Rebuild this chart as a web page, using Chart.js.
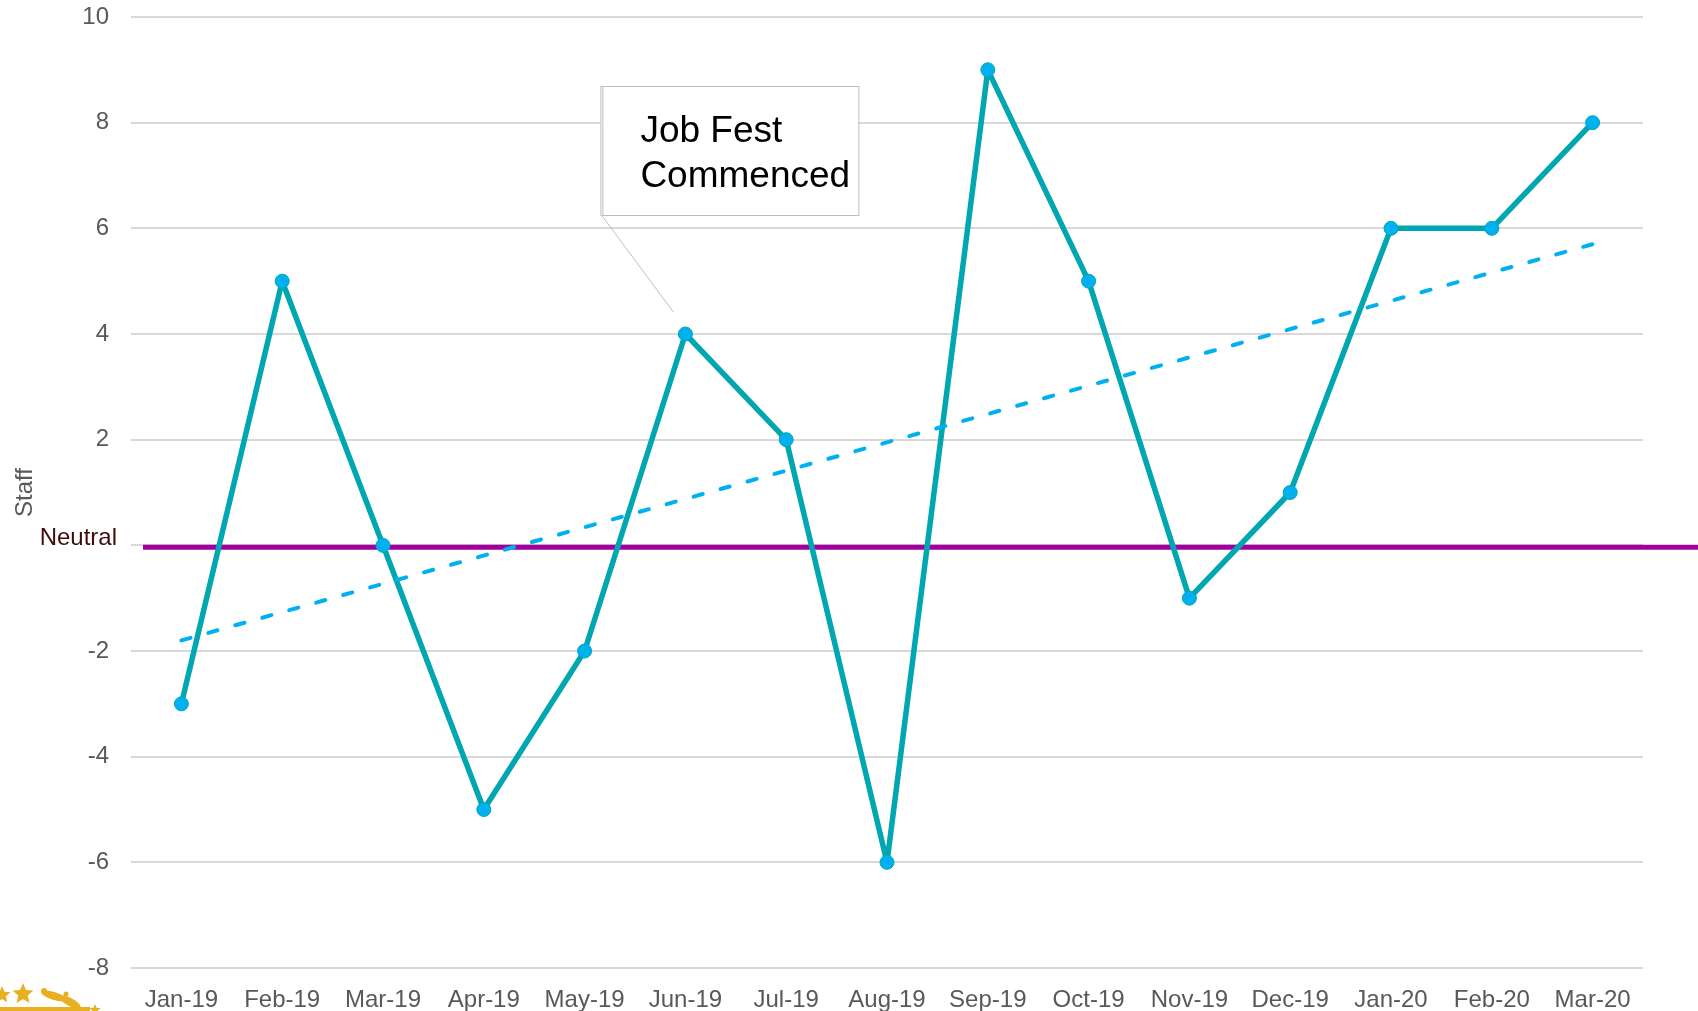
<!DOCTYPE html>
<html>
<head>
<meta charset="utf-8">
<script src="https://cdn.jsdelivr.net/npm/chart.js@4/dist/chart.umd.min.js"></script>
<style>
  html, body { margin: 0; padding: 0; background: #fff; }
  #wrap { width: 1698px; height: 1011px; position: relative; }
</style>
</head>
<body>
<div id="wrap"><canvas id="chart"></canvas></div>
<script>
// data
const months = ['Jan-19', 'Feb-19', 'Mar-19', 'Apr-19', 'May-19', 'Jun-19', 'Jul-19', 'Aug-19',
  'Sep-19', 'Oct-19', 'Nov-19', 'Dec-19', 'Jan-20', 'Feb-20', 'Mar-20'];
const staff = [-3, 5, 0, -5, -2, 4, 2, -6, 9, 5, -1, 1, 6, 6, 8];
// trendline ends
const trend = [-1.8, null, null, null, null, null, null, null, null, null, null, null, null, null, 5.7];
const neutralValue = 0;
const yTicks = [10, 8, 6, 4, 2, 0, -2, -4, -6, -8];
const note = ['Job Fest', 'Commenced'];
const noteIndex = 5;

const FONT = '"Liberation Sans", Arial, sans-serif';

// purple neutral line + label, callout box, logo scrap
const extras = {
  id: 'extras',
  beforeDatasetsDraw(chart) {
    const { ctx, scales: { y } } = chart;
    const py = y.getPixelForValue(neutralValue) + 2;
    ctx.save();
    ctx.strokeStyle = '#a000a0';
    ctx.lineWidth = 5;
    ctx.beginPath();
    ctx.moveTo(143, py);
    ctx.lineTo(chart.width, py);
    ctx.stroke();
    ctx.fillStyle = '#3d0c0c';
    ctx.font = '24px ' + FONT;
    ctx.textAlign = 'right';
    ctx.textBaseline = 'alphabetic';
    ctx.fillText('Neutral', 117, py - 2);
    ctx.restore();
  },
  afterDraw(chart) {
    const { ctx, scales: { x, y } } = chart;
    const px = x.getPixelForValue(noteIndex);
    const py = y.getPixelForValue(staff[noteIndex]);
    ctx.save();
    // callout
    const bx = px - 85, by = py - 248, bw = 258, bh = 129;
    ctx.fillStyle = '#fff';
    ctx.fillRect(bx, by, bw, bh);
    ctx.strokeStyle = '#bfbfbf';
    ctx.lineWidth = 1;
    ctx.strokeRect(bx + 0.5, by + 0.5, bw, bh);
    ctx.beginPath();
    ctx.moveTo(bx + 2.5, by + 1);
    ctx.lineTo(bx + 2.5, by + bh);
    ctx.stroke();
    ctx.beginPath();
    ctx.moveTo(bx + 1, by + bh);
    ctx.lineTo(px - 12, py - 22);
    ctx.stroke();
    ctx.fillStyle = '#000';
    ctx.font = '37px ' + FONT;
    ctx.textAlign = 'left';
    ctx.fillText(note[0], bx + 40, by + 56);
    ctx.fillText(note[1], bx + 40, by + 101);
    // cropped logo in the corner
    ctx.fillStyle = '#e8b020';
    const star = (cx, cy, r) => {
      ctx.beginPath();
      for (let i = 0; i < 10; i++) {
        const a = -Math.PI / 2 + i * Math.PI / 5;
        const rr = i % 2 ? r * 0.45 : r;
        ctx.lineTo(cx + rr * Math.cos(a), cy + rr * Math.sin(a));
      }
      ctx.closePath();
      ctx.fill();
    };
    star(2, 995, 9);
    star(23, 994, 11);
    star(95, 1010, 6);
    ctx.beginPath();
    ctx.ellipse(54, 996, 13, 4, 0.3, 0, Math.PI * 2);
    ctx.fill();
    ctx.beginPath();
    ctx.ellipse(70, 1002, 12, 4, 0.5, 0, Math.PI * 2);
    ctx.fill();
    ctx.beginPath();
    ctx.arc(44, 991, 3, 0, Math.PI * 2);
    ctx.fill();
    ctx.beginPath();
    ctx.arc(66, 994, 2.5, 0, Math.PI * 2);
    ctx.fill();
    ctx.fillRect(0, 1007, 90, 4);
    ctx.restore();
  }
};

function noPad(s) {
  s.paddingTop = 0; s.paddingBottom = 0; s.paddingLeft = 0; s.paddingRight = 0;
}

const chart = new Chart(document.getElementById('chart'), {
  type: 'line',
  data: {
    labels: months,
    datasets: [
      {
        label: 'Trend', data: trend, spanGaps: true,
        borderColor: '#00b0f0', borderWidth: 4, borderDash: [9.5, 18.5], borderCapStyle: 'round',
        pointRadius: 0, fill: false, order: 0
      },
      {
        label: 'Staff', data: staff,
        borderColor: '#00a6b0', borderWidth: 5.5, tension: 0, borderJoinStyle: 'round',
        pointRadius: 7, pointBackgroundColor: '#00b0f0', pointBorderColor: '#00a6b0', pointBorderWidth: 1,
        order: 1
      }
    ]
  },
  options: {
    responsive: true, maintainAspectRatio: false, animation: false,
    layout: { padding: { top: 17, right: 55, left: 0, bottom: 0 } },
    plugins: { legend: { display: false }, tooltip: { enabled: false } },
    scales: {
      x: {
        offset: true,
        grid: { display: false, drawTicks: false },
        border: { display: false },
        ticks: { color: '#595959', font: { family: FONT, size: 24 }, padding: 18, maxRotation: 0, autoSkip: false },
        afterFit(s) { s.height = 43; noPad(s); }
      },
      y: {
        min: -8, max: 10,
        afterBuildTicks(s) { s.ticks = yTicks.map(v => ({ value: v })); },
        grid: { color: '#d9d9d9', lineWidth: 2, drawTicks: false },
        border: { display: false },
        ticks: {
          color: '#595959', font: { family: FONT, size: 24 }, padding: 22,
          callback: v => (v === neutralValue ? '' : String(v))
        },
        title: { display: true, text: 'Staff', color: '#595959', font: { family: FONT, size: 24 }, padding: { top: 11, bottom: 0 } },
        afterFit(s) { s.width = 131; noPad(s); }
      }
    }
  },
  plugins: [extras]
});
</script>
</body>
</html>
